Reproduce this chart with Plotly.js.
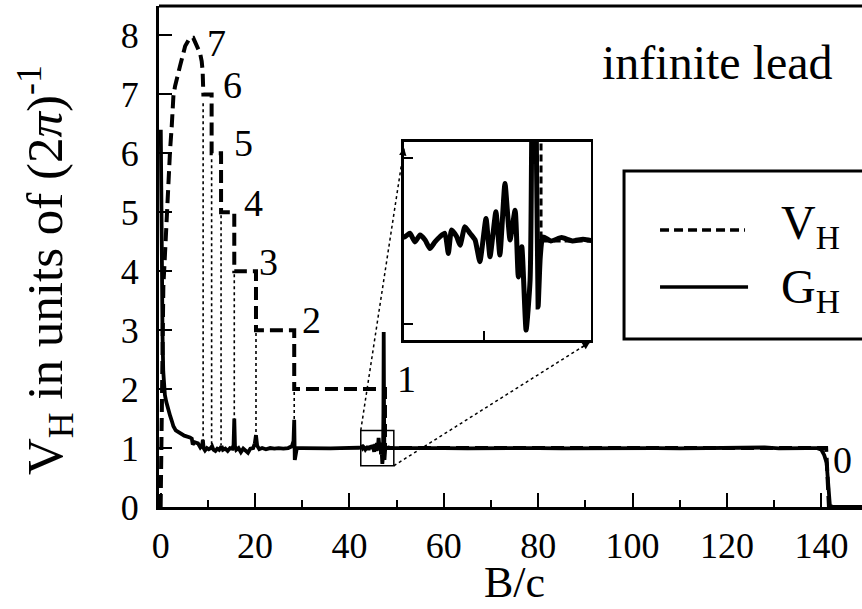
<!DOCTYPE html>
<html><head><meta charset="utf-8">
<script src="https://cdn.plot.ly/plotly-3.0.1.min.js"></script>
<style>html,body{margin:0;padding:0;background:#fff}#chart{width:862px;height:609px}</style>
</head><body><div id="chart"></div>
<script>
// G_H (solid) trace
const gX = [0.03,0.12,0.25,0.4,0.55,0.7,0.9,1.2,1.6,2.0,2.4,2.7,3.2,4.1,5.0,6.2,6.6,6.8,7.2,7.9,8.4,8.8,8.95,9.1,9.4,9.8,10.2,10.6,10.9,11.2,11.6,12.0,12.4,12.9,13.2,13.7,14.2,14.7,15.2,15.45,15.6,15.75,16.0,16.5,17.0,17.5,18.0,18.5,19.0,19.6,19.95,20.2,20.45,20.9,21.5,22.3,23.2,24.1,25.0,26.0,27.0,27.8,28.15,28.3,28.42,28.6,28.85,30,32,34,36,38,40,42.0,42.44,42.62,42.81,43.0,43.19,43.37,43.56,43.75,43.93,44.06,44.18,44.37,44.5,44.68,44.87,45.06,45.24,45.47,45.62,45.84,45.99,46.18,46.37,46.56,46.68,46.81,46.97,47.12,47.2,47.26,47.33,47.42,47.5,47.6,47.9,48.3,48.7,49.1,49.5,52,56,60,65,70,75,80,85,90,95,100,105,110,115,120,125,128,131,134,137,139,140,140.6,141.1,141.8,142.5,148.6];
const gY = [6.4,5.2,3.9,2.9,2.3,2.05,1.9,1.78,1.64,1.55,1.45,1.37,1.30,1.25,1.21,1.18,1.16,1.06,1.10,1.08,1.01,1.05,1.14,1.0,0.96,1.0,0.98,1.0,1.03,0.97,0.95,0.99,0.97,1.03,0.97,0.99,0.95,1.0,0.99,1.05,1.5,1.03,0.97,1.0,0.93,0.99,0.95,0.92,0.99,1.0,1.08,1.22,1.04,0.98,1.0,0.98,1.0,0.99,1.0,0.99,1.0,1.03,1.12,1.48,0.80,0.94,1.0,1.0,0.995,1.0,0.995,1.0,0.995,1.005,1.013,1.023,0.997,1.018,1.003,0.977,0.997,1.013,1.023,0.962,1.033,1.013,0.987,1.043,1.023,1.003,0.937,1.068,0.952,1.088,0.957,1.174,1.003,1.093,0.891,0.982,0.73,0.881,1.6,2.97,1.6,0.80,0.95,1.012,1.0,1.01,1.0,1.005,1.0,1.0,1.005,1.0,0.995,1.0,1.005,1.0,0.995,1.0,1.0,1.005,1.0,0.995,1.0,1.005,1.0,1.01,0.995,1.005,1.0,1.0,0.97,0.88,0.75,0.02,0.0,0.0];
// V_H (dashed) trace
const vX = [0,0.1,0.25,0.4,0.57,0.93,1.29,1.63,2.0,2.35,2.7,3.05,3.4,4.1,5.2,6.2,6.9,7.6,8.35,8.7,8.9,9.05,10.8,10.8,12.8,12.8,15.6,15.6,20.2,20.2,28.3,28.3,47.53,47.53,141.0,141.6,148.6];
const vY = [0,0.8,1.8,2.8,3.74,4.31,4.99,5.44,6.06,6.46,6.97,7.14,7.28,7.48,7.82,7.96,7.96,7.84,7.7,7.56,7.39,7.0,7.0,6.0,6.0,5.0,5.0,4.0,4.0,3.0,3.0,2.0,2.0,1.0,1.0,0,0];
// dotted guide lines from plateau steps to G_H
const stepX = [9.0,10.8,12.8,15.6,20.2,28.3];
const stepTop = [6.85,5.9,4.95,3.95,2.95,1.95];
const stepBottom = 1.05;
// plateau labels
const plateauText = ['7','6','5','4','3','2','1','0'];
const plateauX = [11.9,15.3,17.5,19.6,22.9,31.9,52.0,144.4];
const plateauY = [7.88,7.16,6.18,5.16,4.15,3.17,2.17,0.80];
// ticks
const xTicks = [0,20,40,60,80,100,120,140];
const yTicks = [0,1,2,3,4,5,6,7,8];
// ranges
const xRange = [-0.35,148.6];
const yRange = [0,8.5];
const zoomX = [42.4,49.4];
const zoomY = [0.7,1.3];
const insetDomX = [0.3485,0.6145];
const insetDomY = [0.3333,0.729];

const FONT = '"Liberation Serif", "Times New Roman", Times, serif';
const px = v => (v - xRange[0])/(xRange[1]-xRange[0]);
const py = v => (v - yRange[0])/(yRange[1]-yRange[0]);

const dotX = [], dotY = [];
stepX.forEach((x,i)=>{dotX.push(x,x,null);dotY.push(stepTop[i],stepBottom,null);});

const traces = [
  {x:dotX,y:dotY,mode:'lines',line:{color:'black',width:1.6,dash:'dot'},xaxis:'x',yaxis:'y'},
  {x:vX,y:vY,mode:'lines',line:{color:'black',width:4,dash:'13px,6px'},xaxis:'x',yaxis:'y'},
  {x:gX,y:gY,mode:'lines',line:{color:'black',width:3.8},xaxis:'x',yaxis:'y'},
  {x:vX,y:vY,mode:'lines',line:{color:'black',width:3,dash:'7px,4px'},xaxis:'x2',yaxis:'y2'},
  {x:gX,y:gY,mode:'lines',line:{color:'black',width:5,shape:'spline',smoothing:0.5},xaxis:'x2',yaxis:'y2'}
];

const annotations = plateauText.map((t,i)=>({x:plateauX[i],y:plateauY[i],xref:'x',yref:'y',text:t,showarrow:false,
  xanchor:'center',yanchor:'middle',font:{family:FONT,size:38,color:'black'}}));
annotations.push({xref:'paper',yref:'paper',x:0.795,y:0.888,text:'infinite lead',showarrow:false,xanchor:'center',yanchor:'middle',font:{family:FONT,size:48,color:'black'}});
annotations.push({xref:'paper',yref:'paper',x:0.882,y:0.561,text:'V<sub>H</sub>',showarrow:false,xanchor:'left',yanchor:'middle',font:{family:FONT,size:48,color:'black'}});
annotations.push({xref:'paper',yref:'paper',x:0.882,y:0.433,text:'G<sub>H</sub>',showarrow:false,xanchor:'left',yanchor:'middle',font:{family:FONT,size:48,color:'black'}});
annotations.push({xref:'paper',yref:'paper',x:0.505,y:-0.2036,text:'B/c',showarrow:false,xanchor:'center',yanchor:'bottom',font:{family:FONT,size:44,color:'black'}});
annotations.push({xref:'paper',yref:'paper',x:-0.1622,y:0.473,text:'V<sub>H</sub> in units of (2<i>π</i>)<sup>-1</sup>',textangle:-90,showarrow:false,xanchor:'center',yanchor:'middle',font:{family:FONT,size:51,color:'black'}});
annotations.push({xref:'paper',yref:'paper',x:0.3485,y:0.7166,text:'',showarrow:true,ax:-2,ay:12,arrowhead:2,arrowsize:1,arrowwidth:1.5,arrowcolor:'black',standoff:0});
annotations.push({xref:'paper',yref:'paper',x:0.6131,y:0.3293,text:'',showarrow:true,ax:-10,ay:6.5,arrowhead:2,arrowsize:1,arrowwidth:1.5,arrowcolor:'black',standoff:0});

const shapes = [
  {type:'line',xref:'paper',yref:'paper',x0:0,x1:1.1,y0:1,y1:1,line:{color:'black',width:3}},
  {type:'rect',xref:'x',yref:'y',x0:zoomX[0],x1:zoomX[1],y0:zoomY[0],y1:zoomY[1],line:{color:'black',width:1.5}},
  {type:'line',xref:'paper',yref:'paper',x0:px(zoomX[0]),y0:py(zoomY[1]),x1:0.3485,y1:0.7166,line:{color:'black',width:1.5,dash:'dot'}},
  {type:'line',xref:'paper',yref:'paper',x0:px(zoomX[1]),y0:py(zoomY[0]),x1:0.6131,y1:0.3293,line:{color:'black',width:1.5,dash:'dot'}},
  {type:'rect',xref:'paper',yref:'paper',x0:0.6615,x1:1.1,y0:0.3353,y1:0.6707,line:{color:'black',width:3},fillcolor:'white',layer:'below'},
  {type:'line',xref:'paper',yref:'paper',x0:0.7127,x1:0.8336,y0:0.5529,y1:0.5529,line:{color:'black',width:3.5,dash:'9px,5px'}},
  {type:'line',xref:'paper',yref:'paper',x0:0.7127,x1:0.8379,y0:0.4391,y1:0.4391,line:{color:'black',width:3.5}}
];

const layout = {
  width:862,height:609,
  margin:{l:159,r:0,t:6,b:102},
  paper_bgcolor:'white',plot_bgcolor:'white',
  showlegend:false,hovermode:false,
  font:{family:FONT,color:'black'},
  xaxis:{range:xRange,domain:[0,1],anchor:'y',showline:true,linewidth:3,linecolor:'black',showgrid:false,zeroline:false,
    ticks:'inside',ticklen:14,tickwidth:2,tickcolor:'black',tickvals:xTicks,tickfont:{family:FONT,size:36,color:'black'},ticklabelstandoff:5,
    minor:{tick0:0,dtick:10,ticks:'inside',ticklen:7,tickwidth:2,tickcolor:'black',showgrid:false}},
  yaxis:{range:yRange,domain:[0,1],anchor:'x',showline:true,linewidth:3,linecolor:'black',showgrid:false,zeroline:false,
    ticks:'inside',ticklen:13,tickwidth:2,tickcolor:'black',tickvals:yTicks,tickfont:{family:FONT,size:36,color:'black'},ticklabelstandoff:10},
  xaxis2:{range:zoomX,domain:insetDomX,anchor:'y2',showline:true,mirror:true,linewidth:2.5,linecolor:'black',showgrid:false,zeroline:false,
    ticks:'inside',ticklen:9,tickwidth:2,tickcolor:'black',tickvals:[45.4],showticklabels:false},
  yaxis2:{range:zoomY,domain:insetDomY,anchor:'x2',showline:true,mirror:true,linewidth:2.5,linecolor:'black',showgrid:false,zeroline:false,
    ticks:'inside',ticklen:9,tickwidth:2,tickcolor:'black',tickvals:[0.75,1.25],showticklabels:false},
  shapes:shapes,annotations:annotations
};
Plotly.newPlot('chart',traces,layout,{staticPlot:true,displayModeBar:false});
</script></body></html>
